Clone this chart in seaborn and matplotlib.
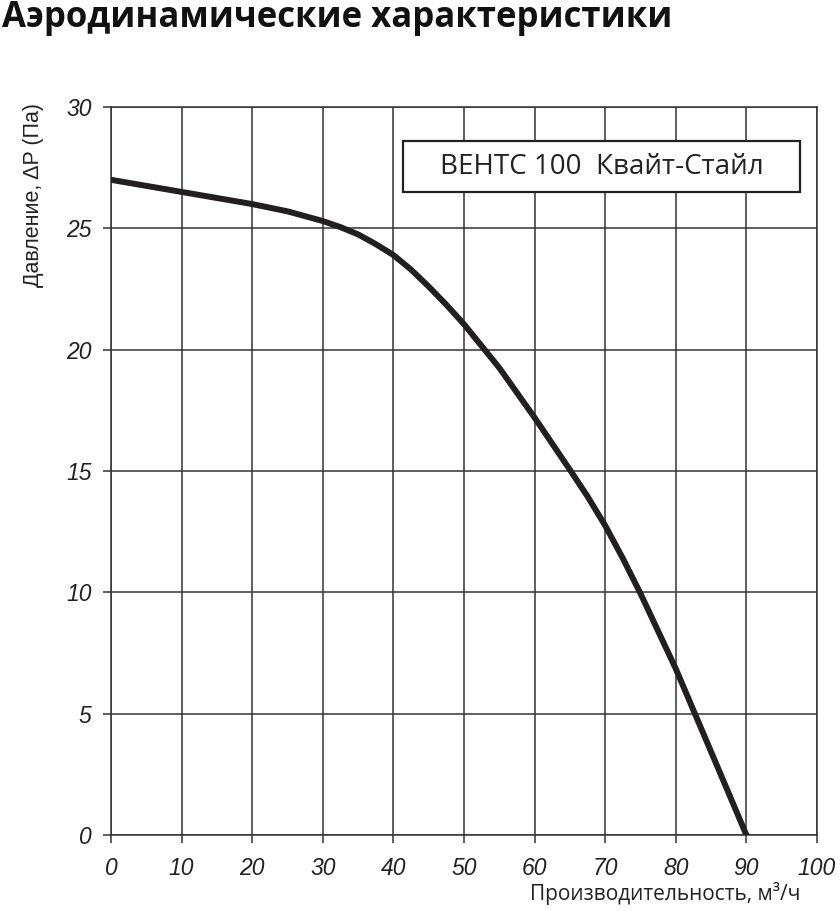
import matplotlib
matplotlib.use("Agg")
import matplotlib.pyplot as plt
import seaborn as sns
import pandas as pd
from matplotlib.patches import Rectangle

# Data
flow = [0, 5, 10, 15, 20, 25, 30, 32.5, 35, 37.5, 40, 42.5, 45, 47.5, 50, 55, 60, 65, 67.5,
        70, 72.5, 75, 77.5, 80, 85, 90]
pressure = [27.0, 26.75, 26.5, 26.25, 26.0, 25.7, 25.3, 25.05, 24.75, 24.35, 23.9, 23.3, 22.6, 21.85,
            21.05, 19.25, 17.2, 15.05, 13.95, 12.75, 11.4, 9.95, 8.4, 6.85, 3.43, 0.0]
x_ticks = [0, 10, 20, 30, 40, 50, 60, 70, 80, 90, 100]
y_ticks = [0, 5, 10, 15, 20, 25, 30]

title = "Аэродинамические характеристики"
legend_text = "ВЕНТС 100  Квайт-Стайл"
xlabel = "Производительность, м³/ч"
ylabel = "Давление, ΔP (Па)"

sns.set_theme(style="white")
plt.rcParams['font.family'] = ["Open Sans", "DejaVu Sans"]

df = pd.DataFrame({"flow": flow, "pressure": pressure})

fig = plt.figure(figsize=(8.4, 9.11), dpi=100)
ax = fig.add_axes([111/840, 1-835/911, 706/840, 728/911])

grid_c = "#333333"
sns.lineplot(data=df, x="flow", y="pressure", ax=ax, color="#231f20", linewidth=4.3,
             solid_capstyle="round", solid_joinstyle="round", zorder=3)

ax.set_xlim(0, 100)
ax.set_ylim(0, 30)
ax.set_xticks(x_ticks)
ax.set_yticks(y_ticks)
ax.grid(True, color=grid_c, linewidth=1.1)
for s in ax.spines.values():
    s.set_visible(True)
    s.set_color(grid_c)
    s.set_linewidth(1.1)
ax.tick_params(axis="both", which="major", direction="out", length=6, width=1.1,
               color=grid_c, left=True, bottom=True)
ax.tick_params(axis="x", pad=10)
ax.tick_params(axis="y", pad=8)
for lab in ax.get_xticklabels() + ax.get_yticklabels():
    lab.set_fontfamily(["Liberation Sans", "DejaVu Sans"])
    lab.set_fontstyle("italic")
    lab.set_fontsize(16.5)
    lab.set_color("#222222")

ax.set_xlabel(xlabel, fontsize=15, family=["Open Sans", "DejaVu Sans"], color="#222222")
ax.xaxis.set_label_coords(0.976, -0.065)
ax.xaxis.label.set_horizontalalignment("right")
ax.xaxis.label.set_verticalalignment("top")

ax.set_ylabel(ylabel, fontsize=15.5, family=["Liberation Sans", "DejaVu Sans"], color="#222222")
ax.yaxis.set_label_coords(-0.11, 1.005)
ax.yaxis.label.set_horizontalalignment("right")
ax.yaxis.label.set_verticalalignment("center")

box_x0 = (403 - 111) / 706
box_x1 = (800 - 111) / 706
box_y0 = (835 - 192) / 728
box_y1 = (835 - 141) / 728
ax.add_patch(Rectangle((box_x0, box_y0), box_x1 - box_x0, box_y1 - box_y0, transform=ax.transAxes,
                       facecolor="white", edgecolor="#222222", linewidth=1.6, zorder=5))
ax.text((box_x0 + box_x1) / 2, (box_y0 + box_y1) / 2, legend_text, transform=ax.transAxes,
        ha="center", va="center", fontsize=20, family=["Open Sans", "DejaVu Sans"],
        color="#222222", zorder=6)

fig.text(0.002, 1 - 27/911, title, ha="left", va="baseline", fontsize=25, fontweight="bold",
         family=["Open Sans", "DejaVu Sans"], color="#111111")

fig.savefig("out.png", dpi=100, facecolor="white")
